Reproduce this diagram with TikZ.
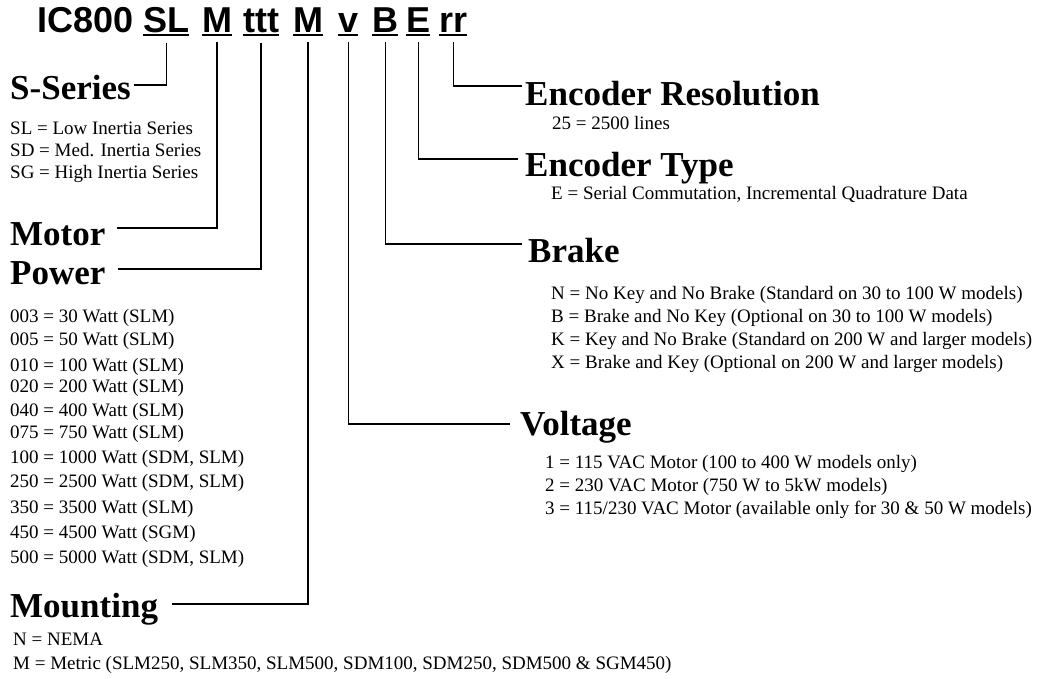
\documentclass[tikz,border=0pt]{standalone}
\usepackage{fontspec}
\setmainfont{Liberation Serif}
\newfontfamily\codefont{Liberation Sans}
\usetikzlibrary{positioning}
\tikzset{
  code/.style={inner sep=0pt,anchor=base west,font=\codefont\bfseries\fontsize{36}{40}\selectfont},
  head/.style={inner sep=0pt,anchor=base west,text height=30pt,text depth=0pt,
    font=\bfseries\fontsize{35}{40}\selectfont},
  item/.style={inner sep=0pt,anchor=base west,font=\fontsize{19}{23}\selectfont},
  lead/.style={line width=1.4pt},
  uline/.style={line width=2pt},
}

\begin{document}
\begin{tikzpicture}[x=1pt,y=-1pt]
\useasboundingbox (0,0) rectangle (1052,679);
% part number
\node[code] (pre) at (37,33) {IC800};
\foreach \x/\n/\t in {143/sl/SL,202/mot/M,243/ttt/ttt,293/mnt/M,338/volt/v,372/brk/B,406/enc/E,439/res/rr} {
  \node[code] (\n) at (\x,33) {\t};
  \draw[uline] ([yshift=-2.5pt]\n.base west) -- ([yshift=-2.5pt]\n.base east);
}
% headings
\node[head] (sseries) at (10,100) {S-Series};
\node[head] (motor) at (10,245) {Motor};
\node[head] (power) at (10,284) {Power};
\node[head] (mounting) at (10,617) {Mounting};
\node[head] (encres) at (525,106) {Encoder Resolution};
\node[head] (enctype) at (525,177) {Encoder Type};
\node[head] (brake) at (528,262) {Brake};
\node[head] (voltage) at (520,435) {Voltage};
% leaders
\draw[lead] ([yshift=-9pt]sl.south) |- ([xshift=3pt]sseries.east);
\draw[lead] ([yshift=-9pt]mot.south) |- ([xshift=11pt,yshift=2pt]motor.east);
\draw[lead] ([yshift=-9pt]ttt.south) |- ([xshift=12pt]power.east);
\draw[lead] ([yshift=-9pt]mnt.south) |- ([xshift=14pt,yshift=-2pt]mounting.east);
\draw[lead] ([yshift=-9pt]res.south) |- ([xshift=-3pt,yshift=5pt]encres.west);
\draw[lead] ([yshift=-9pt]enc.south) |- ([xshift=-7pt,yshift=3pt]enctype.west);
\draw[lead] ([yshift=-9pt]brk.south) |- ([xshift=-6pt,yshift=3pt]brake.west);
\draw[lead] ([yshift=-9pt]volt.south) |- ([xshift=-10pt,yshift=-4pt]voltage.west);
% option lists
\foreach \y/\t [count=\i] in {135/{SL = Low Inertia Series},157/{SD = Med. Inertia Series},
  179/{SG = High Inertia Series}}
  \node[item] (ser\i) at (10,\y) {\t};
\foreach \y/\t [count=\i] in {322/{003 = 30 Watt (SLM)},345/{005 = 50 Watt (SLM)},
  371/{010 = 100 Watt (SLM)},392/{020 = 200 Watt (SLM)},416/{040 = 400 Watt (SLM)},
  438/{075 = 750 Watt (SLM)},463/{100 = 1000 Watt (SDM, SLM)},487/{250 = 2500 Watt (SDM, SLM)},
  513/{350 = 3500 Watt (SLM)},538/{450 = 4500 Watt (SGM)},563/{500 = 5000 Watt (SDM, SLM)}}
  \node[item] (pow\i) at (10,\y) {\t};
\node[item] (mnt1) at (13,645) {N = NEMA};
\node[item] (mnt2) at (13,669) {M = Metric (SLM250, SLM350, SLM500, SDM100, SDM250, SDM500 \& SGM450)};
\node[item] (res1) at (552,130) {25 = 2500 lines};
\node[item] (enc1) at (551,200) {E = Serial Commutation, Incremental Quadrature Data};
\foreach \y/\t [count=\i] in {299/{N = No Key and No Brake (Standard on 30 to 100 W models)},
  322/{B = Brake and No Key (Optional on 30 to 100 W models)},
  345/{K = Key and No Brake (Standard on 200 W and larger models)},
  368/{X = Brake and Key (Optional on 200 W and larger models)}}
  \node[item] (brk\i) at (551,\y) {\t};
\foreach \y/\t [count=\i] in {468/{1 = 115 VAC Motor (100 to 400 W models only)},
  491/{2 = 230 VAC Motor (750 W to 5kW models)},
  514/{3 = 115/230 VAC Motor (available only for 30 \& 50 W models)}}
  \node[item] (volt\i) at (545,\y) {\t};
\end{tikzpicture}
\end{document}
